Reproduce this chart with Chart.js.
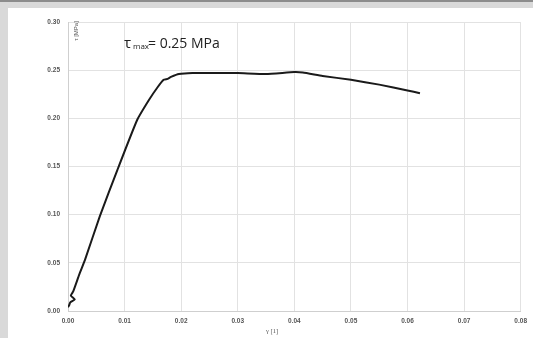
<!DOCTYPE html>
<html>
<head>
<meta charset="utf-8">
<script src="https://cdn.jsdelivr.net/npm/chart.js@4"></script>
<style>
  html, body { margin: 0; padding: 0; background: #fff; }
  #wrap { position: relative; width: 533px; height: 338px; overflow: hidden; }
  #topdark { position: absolute; left: 0; top: 0; width: 533px; height: 2px; background: #8c8c8c; }
  #toplight { position: absolute; left: 0; top: 2px; width: 533px; height: 6px; background: #d9d9d9; }
  #leftband { position: absolute; left: 0; top: 8px; width: 8px; height: 330px; background: #d9d9d9; }
</style>
</head>
<body>
<div id="wrap">
  <canvas id="mychart" width="533" height="338"></canvas>
  <div id="topdark"></div>
  <div id="toplight"></div>
  <div id="leftband"></div>
</div>
<script>
// deformacion angular y tension tangencial
var gamma = [0.0000, 0.0002, 0.0004, 0.0012, 0.0005, 0.0009, 0.0020, 0.0030, 0.0056, 0.0087, 0.0122, 0.0143, 0.0158, 0.0169, 0.0176, 0.0182, 0.0196, 0.0220, 0.0260, 0.0300, 0.0350, 0.0400, 0.0415, 0.0450, 0.0500, 0.0550, 0.0600, 0.0622];
var tau   = [0.004,  0.006,  0.009,  0.012,  0.016,  0.020,  0.038,  0.053,  0.098,  0.146,  0.198,  0.219,  0.232,  0.240,  0.241,  0.243,  0.246,  0.247,  0.247,  0.247,  0.246,  0.248,  0.2475, 0.244,  0.240,  0.235,  0.229,  0.226];
var xTicks = [0, 0.01, 0.02, 0.03, 0.04, 0.05, 0.06, 0.07, 0.08];
var yTicks = [0, 0.05, 0.10, 0.15, 0.20, 0.25, 0.30];

var puntos = gamma.map(function(g, i){ return {x: g, y: tau[i]}; });

// textos sueltos: titulos de ejes y anotacion
var textos = {
  id: 'textos',
  afterDraw: function(chart){
    var ctx = chart.ctx;
    ctx.save();
    ctx.fillStyle = '#555';
    ctx.font = '6.5px "Liberation Serif"';
    ctx.textBaseline = 'middle';
    ctx.fillText('\u03B3 [1]', 266, 331);
    ctx.save();
    ctx.translate(76, 31);
    ctx.rotate(-Math.PI / 2);
    ctx.textAlign = 'center';
    ctx.font = '6px "Liberation Sans"';
    ctx.fillText('\u03C4 [MPa]', 0, 0);
    ctx.restore();
    ctx.fillStyle = '#222';
    ctx.textAlign = 'left';
    ctx.textBaseline = 'alphabetic';
    ctx.font = '15px "Open Sans"';
    ctx.fillText('\u03C4', 124, 48);
    ctx.font = '8px "Open Sans"';
    ctx.fillText('max', 133, 49);
    ctx.font = '14px "Open Sans"';
    ctx.fillText('= 0.25 MPa', 148, 48);
    ctx.restore();
  }
};

var grafica = new Chart(document.getElementById('mychart'), {
  type: 'scatter',
  data: {
    datasets: [{
      data: puntos,
      showLine: true,
      borderColor: '#1a1a1a',
      borderWidth: 2,
      pointRadius: 0,
      tension: 0.15
    }]
  },
  options: {
    responsive: false,
    animation: false,
    layout: { padding: { top: 22, right: 5, left: 0, bottom: 0 } },
    plugins: { legend: { display: false }, tooltip: { enabled: false } },
    scales: {
      x: {
        type: 'linear',
        min: 0, max: 0.08,
        afterBuildTicks: function(s){ s.ticks = xTicks.map(function(v){ return {value: v}; }); },
        afterFit: function(s){ s.height = 27; },
        grid: { color: '#e2e2e2', lineWidth: 1, drawTicks: false },
        border: { color: '#cfcfcf' },
        ticks: {
          color: '#555',
          font: { size: 6.5, family: 'Liberation Sans', weight: 'bold' },
          padding: 6,
          maxRotation: 0,
          callback: function(v){ return v.toFixed(2); }
        }
      },
      y: {
        type: 'linear',
        min: 0, max: 0.30,
        afterBuildTicks: function(s){ s.ticks = yTicks.map(function(v){ return {value: v}; }); },
        afterFit: function(s){ s.width = 68; },
        grid: { color: '#e2e2e2', lineWidth: 1, drawTicks: false },
        border: { color: '#cfcfcf' },
        ticks: {
          color: '#555',
          font: { size: 6.5, family: 'Liberation Sans', weight: 'bold' },
          padding: 8,
          callback: function(v){ return v.toFixed(2); }
        }
      }
    }
  },
  plugins: [textos]
});
</script>
</body>
</html>
